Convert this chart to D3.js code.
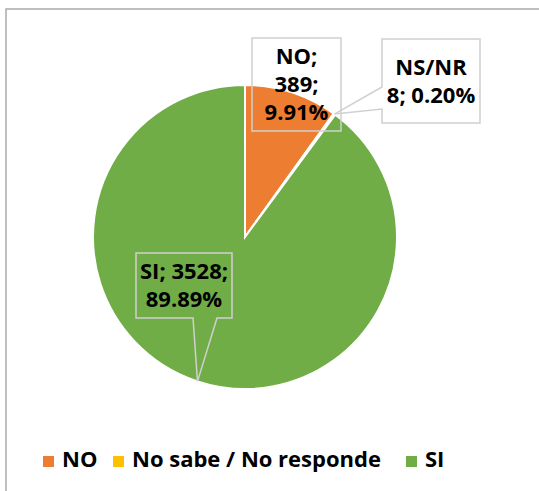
<!DOCTYPE html>
<html>
<head>
<meta charset="utf-8">
<script src="https://cdn.jsdelivr.net/npm/d3@7"></script>
<style>
  body { margin: 0; background: #fff; }
  text { font-family: 'Open Sans', sans-serif; font-weight: 700; fill: #000; }
</style>
</head>
<body>
<div class="d3-wrapper"></div>
<script>
// data
const categories = ['NO', 'No sabe / No responde', 'SI'];
const shortNames = ['NO', 'NS/NR', 'SI'];
const counts = [389, 8, 3528];
const colors = ['#ED7D31', '#FFC000', '#70AD47'];

const WIDTH = 539, HEIGHT = 491;
const CENTER = { x: 245, y: 237 };
const RADIUS = 152;
const FONT_SIZE = 22;
const LINE_H = 28;

// label box layout (box, text lines, callout wedge)
const LABELS = [
  { box: [252, 38, 341, 131], lines: d => [d.name + ';', d.count + ';', d.pct], wedge: null },
  { box: [382, 39, 480, 123], lines: d => [d.name, d.count + '; ' + d.pct], wedge: { side: 'left', a: 87, b: 109 } },
  { box: [136, 253, 232, 318], lines: d => [d.name + '; ' + d.count + ';', d.pct], wedge: { side: 'bottom', a: 193, b: 217 } }
];

const total = d3.sum(counts);
const pctFormat = d3.format('.2%');
const data = categories.map((c, i) => ({
  category: c, name: shortNames[i], count: counts[i],
  pct: pctFormat(counts[i] / total), color: colors[i]
}));

const svg = d3.select('.d3-wrapper').append('svg')
  .attr('width', WIDTH)
  .attr('height', HEIGHT);

// chart frame (only top/left visible)
svg.append('path')
  .attr('d', `M6,${HEIGHT} V9 H${WIDTH}`)
  .attr('fill', 'none')
  .attr('stroke', '#ababab')
  .attr('stroke-width', 1.5);

const pie = d3.pie().sort(null).value(d => d.count);
const arc = d3.arc().innerRadius(0).outerRadius(RADIUS);
const arcs = pie(data);

const g = svg.append('g')
  .attr('transform', `translate(${CENTER.x},${CENTER.y})`);

g.selectAll('.slice')
  .data(arcs)
  .enter().append('path')
  .attr('class', 'slice')
  .attr('d', arc)
  .attr('fill', d => d.data.color)
  .attr('stroke', '#fff')
  .attr('stroke-width', 2);

// label boxes with callouts
const boxPath = (lab, tip) => {
  const [x0, y0, x1, y1] = lab.box;
  const w = lab.wedge;
  if (!w) return `M${x0},${y0}H${x1}V${y1}H${x0}Z`;
  if (w.side === 'left')
    return `M${x0},${y0}H${x1}V${y1}H${x0}V${w.b}L${tip[0]},${tip[1]}L${x0},${w.a}Z`;
  return `M${x0},${y0}H${x1}V${y1}H${w.b}L${tip[0]},${tip[1]}L${w.a},${y1}H${x0}Z`;
};

arcs.forEach((a, i) => {
  const lab = LABELS[i];
  const mid = (a.startAngle + a.endAngle) / 2;
  const tip = [CENTER.x + RADIUS * Math.sin(mid), CENTER.y - RADIUS * Math.cos(mid)];
  svg.append('path')
    .attr('d', boxPath(lab, tip))
    .attr('fill', 'none')
    .attr('stroke', '#d0d0d0')
    .attr('stroke-width', 1.5);

  const lines = lab.lines(a.data);
  const cx = (lab.box[0] + lab.box[2]) / 2;
  const cy = (lab.box[1] + lab.box[3]) / 2;
  const firstBase = cy - (lines.length - 1) * LINE_H / 2 + FONT_SIZE * 0.36;
  svg.append('text')
    .attr('text-anchor', 'middle')
    .style('font-size', FONT_SIZE + 'px')
    .selectAll('tspan')
    .data(lines)
    .enter().append('tspan')
    .attr('x', cx)
    .attr('y', (d, j) => firstBase + j * LINE_H)
    .text(d => d);
});

// legend
const legendStarts = { 'NO': 43, 'No sabe / No responde': 113, 'SI': 406 };
const legend = svg.selectAll('.legend')
  .data(data)
  .enter().append('g')
  .attr('class', 'legend')
  .attr('transform', d => `translate(${legendStarts[d.category]},456)`);

legend.append('rect')
  .attr('width', 11)
  .attr('height', 11)
  .attr('fill', d => d.color);

legend.append('text')
  .attr('x', 19)
  .attr('y', 11)
  .style('font-size', FONT_SIZE + 'px')
  .text(d => d.category);
</script>
</body>
</html>
